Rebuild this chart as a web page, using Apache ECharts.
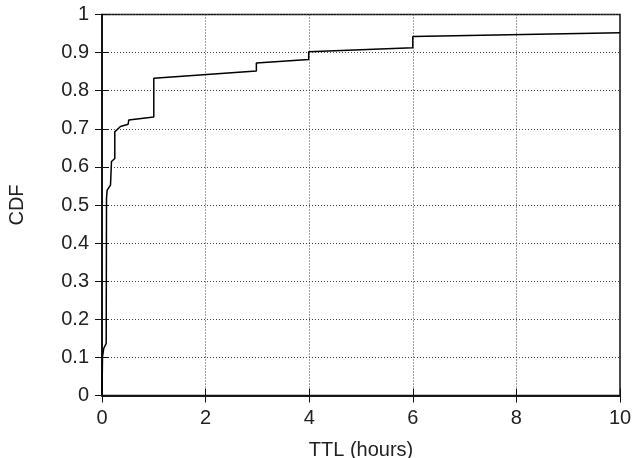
<!DOCTYPE html>
<html><head><meta charset="utf-8">
<script src="https://cdn.jsdelivr.net/npm/echarts@6/dist/echarts.min.js"></script>
<style>html,body{margin:0;padding:0;background:#fff}#c{width:635px;height:458px}</style>
</head><body><div id="c"></div>
<script>
var ttlHours = [0, 0.01, 0.035, 0.081, 0.087, 0.1, 0.164, 0.183, 0.247, 0.247, 0.266, 0.356, 0.505, 0.516, 1.0, 1.0, 2.98, 2.98, 3.99, 3.99, 6.0, 6.0, 10];
var cdfValues = [0, 0.102, 0.124, 0.137, 0.518, 0.539, 0.552, 0.614, 0.622, 0.692, 0.694, 0.706, 0.712, 0.723, 0.731, 0.833, 0.852, 0.873, 0.882, 0.902, 0.913, 0.942, 0.952];
var xTicks = [0, 2, 4, 6, 8, 10];
var yTicks = [0, 0.1, 0.2, 0.3, 0.4, 0.5, 0.6, 0.7, 0.8, 0.9, 1];

var pts = ttlHours.map(function(x, i){ return [x, cdfValues[i]]; });
var FONT = 'Liberation Sans';
var TXT = '#222';
var chart = echarts.init(document.getElementById('c'), null, {renderer:'canvas'});
var gridLine = {show:true, lineStyle:{color:'#444', type:[1,2], width:1}};
chart.setOption({
  animation:false,
  grid:{left:102, right:15, top:14.5, bottom:62.5, containLabel:false, outerBoundsMode:'none',
        show:true, borderColor:'#111', borderWidth:1.5},
  xAxis:[{
    type:'value', min:0, max:10, interval:2,
    axisLine:{show:true, lineStyle:{color:'#111', width:1.5}},
    axisTick:{show:true, inside:true, length:7, lineStyle:{color:'#111'}},
    axisLabel:{color:TXT, fontFamily:FONT, fontSize:20, margin:13,
      formatter:function(v){ return xTicks.indexOf(v) >= 0 ? String(v) : ''; }},
    splitLine:gridLine,
    name:'TTL (hours)', nameLocation:'middle', nameGap:45,
    nameTextStyle:{color:TXT, fontFamily:FONT, fontSize:20}
  },{
    type:'value', min:0, max:10, interval:2, position:'top',
    axisLine:{show:true, lineStyle:{color:'#111', width:1.5}},
    axisTick:{show:true, inside:true, length:7, lineStyle:{color:'#111'}},
    axisLabel:{show:false}, splitLine:{show:false}
  }],
  yAxis:[{
    type:'value', min:0, max:1, interval:0.1,
    axisLine:{show:true, lineStyle:{color:'#111', width:1.5}},
    axisTick:{show:true, inside:true, length:7, lineStyle:{color:'#111'}},
    axisLabel:{color:TXT, fontFamily:FONT, fontSize:20, margin:13,
      formatter:function(v){ var r = Math.round(v*10)/10; return yTicks.indexOf(r) >= 0 ? String(r) : ''; }},
    splitLine:gridLine,
    name:'CDF', nameLocation:'middle', nameGap:75, nameRotate:90,
    nameTextStyle:{color:TXT, fontFamily:FONT, fontSize:20}
  },{
    type:'value', min:0, max:1, interval:0.1, position:'right',
    axisLine:{show:true, lineStyle:{color:'#111', width:1.5}},
    axisTick:{show:true, inside:true, length:7, lineStyle:{color:'#111'}},
    axisLabel:{show:false}, splitLine:{show:false}
  }],
  series:[{
    type:'line', data:pts, showSymbol:false, symbol:'none',
    lineStyle:{color:'#000', width:1.5}, z:5
  }]
});
</script></body></html>
